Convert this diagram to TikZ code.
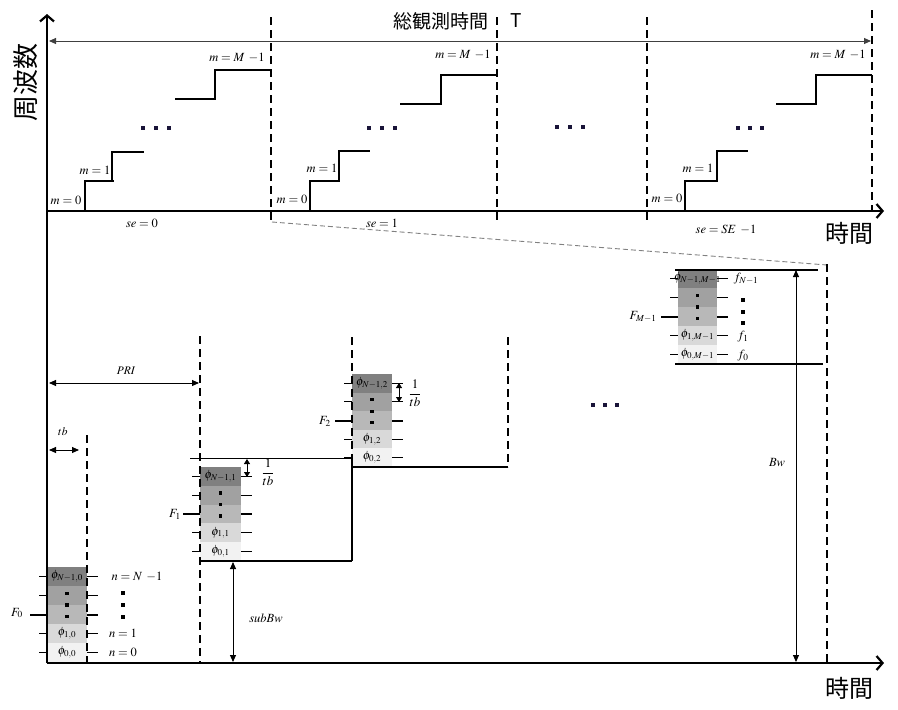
\documentclass[tikz,border=0pt]{standalone}
\usepackage{mathptmx}
\usepackage{fontspec}
\newfontfamily\jpfont{Noto Sans CJK JP}
\usetikzlibrary{arrows.meta}
\definecolor{cA}{gray}{0.50}
\definecolor{cB}{gray}{0.63}
\definecolor{cC}{gray}{0.72}
\definecolor{cD}{gray}{0.85}
\definecolor{cE}{gray}{0.95}
\definecolor{dotc}{rgb}{0.10,0.08,0.22}
% #1 xl, #2 xr, #3 yt, #4 cell height, #5 m subscript, #6 name prefix
\newcommand\fblk[6]{%
  \foreach \i/\cc in {0/cA,1/cB,2/cC,3/cD,4/cE}{
    \fill[\cc] (#1,{#3+\i*#4}) rectangle (#2,{#3+(\i+1)*#4});
  }
  \foreach \i in {0,1,3,4}{
    \draw[tick] ({#1-8},{#3+(\i+0.5)*#4}) -- (#1,{#3+(\i+0.5)*#4});
    \draw[tick] (#2,{#3+(\i+0.5)*#4}) -- ({#2+11},{#3+(\i+0.5)*#4});
  }
  \draw[ftick] ({#1-17},{#3+2.5*#4}) -- (#1,{#3+2.5*#4});
  \draw[ftick] (#2,{#3+2.5*#4}) -- ({#2+11},{#3+2.5*#4});
  \node[phi] (#6a) at ({(#1+#2)/2},{#3+0.5*#4}) {$\phi_{N-1,#5}$};
  \node[phi] (#6b) at ({(#1+#2)/2},{#3+3.5*#4}) {$\phi_{1,#5}$};
  \node[phi] (#6c) at ({(#1+#2)/2},{#3+4.5*#4}) {$\phi_{0,#5}$};
  \foreach \k in {-1,0,1}{
    \fill ({(#1+#2)/2-1.7},{#3+2*#4+\k*11.5-1.7}) rectangle +(3.4,3.4);
  }
}
\begin{document}
\begin{tikzpicture}[x=1pt,y=-1pt,
  axis/.style={line width=2.7pt,-{Straight Barb[length=6pt,width=14pt,line width=2.2pt]}},
  stair/.style={line width=2.2pt},
  vdash/.style={line width=2.2pt,dash pattern=on 8pt off 5pt},
  thinarr/.style={line width=0.9pt,{Triangle[length=7pt,width=6pt]}-{Triangle[length=7pt,width=6pt]}},
  smallarr/.style={line width=0.9pt,{Triangle[length=5pt,width=6pt]}-{Triangle[length=5pt,width=6pt]}},
  band/.style={line width=2.2pt},
  tick/.style={line width=0.9pt},
  ftick/.style={line width=2pt},
  lab/.style={inner sep=0pt,font=\fontsize{12.5}{12.5}\selectfont},
  phi/.style={inner sep=0pt,font=\fontsize{12}{12}\selectfont},
  jp/.style={inner sep=0pt,font=\jpfont\fontsize{24}{24}\selectfont},
  dot/.style={fill=dotc}
]
\useasboundingbox (0,0) rectangle (898,710);

% ---------- top part ----------
\node[jp,rotate=90,font=\jpfont\fontsize{26}{26}\selectfont] (freq) at (26,82) {周波数};
\node[inner sep=0pt,font=\jpfont\fontsize{19}{19}\selectfont] (ttl) at (441,21) {総観測時間};
\node[inner sep=0pt,font=\jpfont\fontsize{19}{19}\selectfont] (ttlT) at (516,21) {T};
\node[jp] (time1) at (849,233) {時間};
\node[jp] (time2) at (849,688) {時間};

\coordinate (Tl) at (49,41);
\coordinate (Tr) at (871,41);
\draw[thinarr,black!75] (Tl) -- (Tr);

% dashed vertical lines (top)
\draw[vdash] (271,17) -- (271,222);
\draw[vdash] (497,17) -- (497,220);
\draw[vdash] (647,17) -- (647,222);
\draw[vdash] (872,10) -- (872,211);

% staircases
\draw[stair] (85,211) -- (85,181) -- (114,181);
\draw[stair] (112,181) -- (112,152) -- (144,152);
\draw[stair] (175,99) -- (215,99) -- (215,70) -- (271,70);
\draw[stair] (310,211) -- (310,181) -- (339,181) -- (339,151) -- (370,151);
\draw[stair] (400,104) -- (441,104) -- (441,75) -- (497,75);
\draw[stair] (685,211) -- (685,181) -- (717,181) -- (717,151) -- (748,151);
\draw[stair] (776,104) -- (816,104) -- (816,75) -- (872,75);

% dots
\foreach \x/\y in {143/128,156/128,169/128,369/128,382/128,395/128,557/127,570/127,583/127,738/128,750/128,762/128,593/405,605/405,617/405}{
  \fill[dot] (\x-2,\y-2) rectangle (\x+2,\y+2);
}

% top labels
\node[lab] (m00) at (66,200) {$m=0$};
\node[lab] (m01) at (95,170) {$m=1$};
\node[lab] (m0M) at (237,58) {$m=M\ {-}1$};
\node[lab] (se0) at (142,223) {$se=0$};
\node[lab] (m10) at (292,199) {$m=0$};
\node[lab] (m11) at (322,168) {$m=1$};
\node[lab] (m1M) at (463,55) {$m=M\ {-}1$};
\node[lab] (se1) at (382,223) {$se=1$};
\node[lab] (m20) at (667,198) {$m=0$};
\node[lab] (m21) at (698,168) {$m=1$};
\node[lab] (m2M) at (838,55) {$m=M\ {-}1$};
\node[lab] (se2) at (726,230) {$se=SE\ {-}1$};

% zoom line
\draw[gray,line width=0.9pt,dash pattern=on 5pt off 3pt] (272,222) -- (827,265);

% ---------- bottom part ----------
\fblk{47}{87}{567}{19}{0}{b0}
\fblk{200}{241}{467}{18.8}{1}{b1}
\fblk{352}{392}{374}{18.6}{2}{b2}
\fblk{678}{717}{269}{19}{M-1}{b3}

\node[lab] (F0) at (17,613) {$F_0$};
\node[lab] (F1) at (175,514) {$F_1$};
\node[lab] (F2) at (325,421) {$F_2$};
\node[lab] (FM) at (643,317) {$F_{M-1}$};

\node[lab] (nN) at (137,577) {$n=N\ {-}1$};
\foreach \y in {593,605,617}{\fill (121.3,\y-1.7) rectangle +(3.4,3.4);}
\node[lab] (n1) at (123,633) {$n=1$};
\node[lab] (n0) at (123,652) {$n=0$};

\node[lab] (fN) at (746,279) {$f_{N-1}$};
\foreach \y in {300,312,323}{\fill (741.3,\y-1.7) rectangle +(3.4,3.4);}
\node[lab] (f1) at (743,337) {$f_1$};
\node[lab] (f0) at (743,356) {$f_0$};

% band lines
\draw[line width=0.9pt] (190,458) -- (352,458);
\draw[band] (200,561) -- (352,561);
\draw[line width=1.5pt] (352,458) -- (352,561);
\draw[band] (352,467) -- (508,467);
\draw[band] (675,270) -- (818,270);
\draw[band] (675,364) -- (823,364);

% dashed verticals (bottom)
\draw[vdash] (87,435) -- (87,662);
\draw[vdash] (200,336) -- (200,663);
\draw[vdash] (352,337) -- (352,467);
\draw[vdash] (508,337) -- (508,467);
\draw[vdash] (827,264) -- (827,663);

% dimension arrows
\coordinate (tbl) at (49,450); \coordinate (tbr) at (79,450);
\draw[thinarr] (tbl) -- (tbr);
\node[lab,font=\fontsize{11.5}{11.5}\selectfont] (tb) at (63,432) {$tb$};
\coordinate (pril) at (49,383); \coordinate (prir) at (199,383);
\draw[thinarr] (pril) -- (prir);
\node[lab,font=\fontsize{11.5}{11.5}\selectfont] (pri) at (126,371) {$PRI$};
\coordinate (i1a) at (247,459); \coordinate (i1b) at (247,477);
\draw[smallarr] (i1a) -- (i1b);
\node[lab,font=\fontsize{13}{13}\selectfont] (inv1) at (268,472) {$\displaystyle\frac{1}{tb}$};
\coordinate (i2a) at (399,383); \coordinate (i2b) at (399,402);
\draw[smallarr] (i2a) -- (i2b);
\node[lab,font=\fontsize{13}{13}\selectfont] (inv2) at (415,393) {$\displaystyle\frac{1}{tb}$};
\coordinate (sba) at (233,562); \coordinate (sbb) at (233,662);
\draw[thinarr] (sba) -- (sbb);
\node[lab] (sbw) at (266,618) {$subBw$};
\coordinate (bwa) at (796,270); \coordinate (bwb) at (796,662);
\draw[thinarr] (bwa) -- (bwb);
\node[lab] (bw) at (777,463) {$Bw$};

% axes
\draw[axis] (47,663) -- (47,14);
\draw[axis] (47,211) -- (884,211);
\draw[axis] (47,663) -- (884,663);
\end{tikzpicture}
\end{document}
